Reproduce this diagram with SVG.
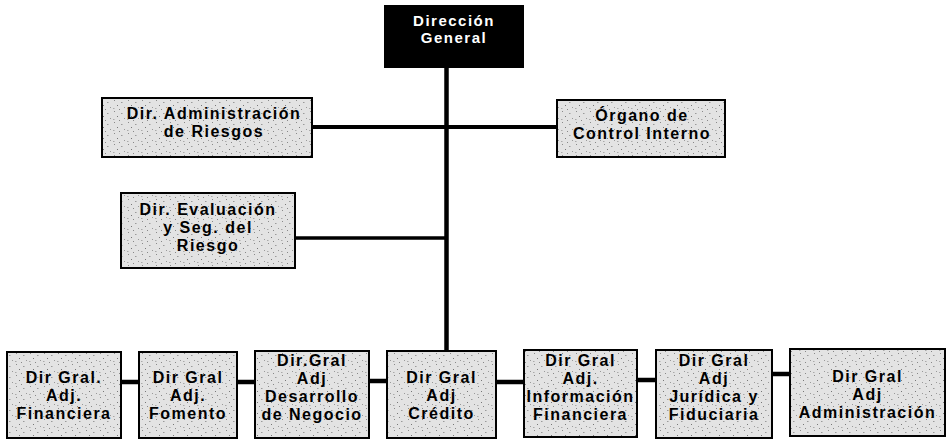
<svg xmlns="http://www.w3.org/2000/svg" width="949" height="441" viewBox="0 0 949 441">
  <defs>
    <pattern id="speck" width="14" height="11" patternUnits="userSpaceOnUse">
      <rect width="14" height="11" fill="#e3e3e3"/>
      <rect x="2" y="1" width="1" height="1" fill="#8a8a8a"/>
      <rect x="9" y="3" width="1.5" height="1" fill="#9a9a9a"/>
      <rect x="5" y="6" width="1" height="1" fill="#777"/>
      <rect x="12" y="8" width="1" height="1" fill="#999"/>
      <rect x="1" y="9" width="1.5" height="1" fill="#aaa"/>
      <rect x="7" y="10" width="1" height="1" fill="#888"/>
    </pattern>
  </defs>
  <style>
    .box { fill: url(#speck); stroke: #000; stroke-width: 2; }
    .dark { fill: #000; stroke: #000; stroke-width: 2; }
    .t { font-family: "Liberation Sans", Arial, sans-serif; font-weight: bold; font-size: 16px; letter-spacing: 1.5px; text-anchor: middle; fill: #000; }
    .tw { font-family: "Liberation Sans", Arial, sans-serif; font-weight: bold; font-size: 15px; letter-spacing: 1.5px; text-anchor: middle; fill: #fff; }
    .c { stroke: #000; fill: none; }
  </style>
  <rect width="949" height="441" fill="#fff"/>

  <g id="connectors">
    <line class="c" x1="446.5" y1="67" x2="446.5" y2="352" stroke-width="4.5"/>
    <line class="c" x1="312" y1="127" x2="557" y2="127" stroke-width="4"/>
    <line class="c" x1="295" y1="238" x2="446" y2="238" stroke-width="3.5"/>
    <line class="c" x1="121" y1="382" x2="139" y2="382" stroke-width="4.5"/>
    <line class="c" x1="237" y1="382" x2="255" y2="382" stroke-width="4.5"/>
    <line class="c" x1="369" y1="381" x2="387" y2="381" stroke-width="4.5"/>
    <line class="c" x1="496" y1="382" x2="524" y2="382" stroke-width="4.5"/>
    <line class="c" x1="637" y1="380" x2="656" y2="380" stroke-width="4.5"/>
    <line class="c" x1="772" y1="374" x2="790" y2="374" stroke-width="4.5"/>
  </g>

  <g id="direccion-general">
    <rect class="dark" x="385" y="6" width="138" height="61"/>
    <text class="tw" x="454" y="26">Dirección</text>
    <text class="tw" x="454" y="43">General</text>
  </g>

  <g id="dir-admin-riesgos">
    <rect class="box" x="102" y="98" width="210" height="59"/>
    <text class="t" x="214" y="119">Dir. Administración</text>
    <text class="t" x="214" y="137">de Riesgos</text>
  </g>

  <g id="organo-control">
    <rect class="box" x="557" y="100" width="168" height="57"/>
    <text class="t" x="642" y="121">Órgano de</text>
    <text class="t" x="642" y="139">Control Interno</text>
  </g>

  <g id="dir-evaluacion">
    <rect class="box" x="121" y="193" width="174" height="75"/>
    <text class="t" x="208" y="215">Dir. Evaluación</text>
    <text class="t" x="208" y="233">y Seg. del</text>
    <text class="t" x="208" y="251">Riesgo</text>
  </g>

  <g id="adj-financiera">
    <rect class="box" x="7" y="352" width="114" height="86"/>
    <text class="t" x="64" y="383">Dir Gral.</text>
    <text class="t" x="64" y="401">Adj.</text>
    <text class="t" x="64" y="419">Financiera</text>
  </g>

  <g id="adj-fomento">
    <rect class="box" x="139" y="352" width="98" height="86"/>
    <text class="t" x="188" y="383">Dir Gral</text>
    <text class="t" x="188" y="401">Adj.</text>
    <text class="t" x="188" y="419">Fomento</text>
  </g>

  <g id="adj-desarrollo">
    <rect class="box" x="255" y="351" width="114" height="87"/>
    <text class="t" x="312" y="366">Dir.Gral</text>
    <text class="t" x="312" y="384">Adj</text>
    <text class="t" x="312" y="402">Desarrollo</text>
    <text class="t" x="312" y="420">de Negocio</text>
  </g>

  <g id="adj-credito">
    <rect class="box" x="387" y="351" width="109" height="87"/>
    <text class="t" x="441.5" y="383">Dir Gral</text>
    <text class="t" x="441.5" y="401">Adj</text>
    <text class="t" x="441.5" y="419">Crédito</text>
  </g>

  <g id="adj-informacion">
    <rect class="box" x="524" y="350" width="113" height="87"/>
    <text class="t" x="580.5" y="366">Dir Gral</text>
    <text class="t" x="580.5" y="384">Adj.</text>
    <text class="t" x="580.5" y="402">Información</text>
    <text class="t" x="580.5" y="420">Financiera</text>
  </g>

  <g id="adj-juridica">
    <rect class="box" x="656" y="350" width="116" height="88"/>
    <text class="t" x="714" y="366">Dir Gral</text>
    <text class="t" x="714" y="384">Adj</text>
    <text class="t" x="714" y="402">Jurídica y</text>
    <text class="t" x="714" y="420">Fiduciaria</text>
  </g>

  <g id="adj-administracion">
    <rect class="box" x="790" y="349" width="155" height="87"/>
    <text class="t" x="867.5" y="382">Dir Gral</text>
    <text class="t" x="867.5" y="400">Adj</text>
    <text class="t" x="867.5" y="418">Administración</text>
  </g>
</svg>
